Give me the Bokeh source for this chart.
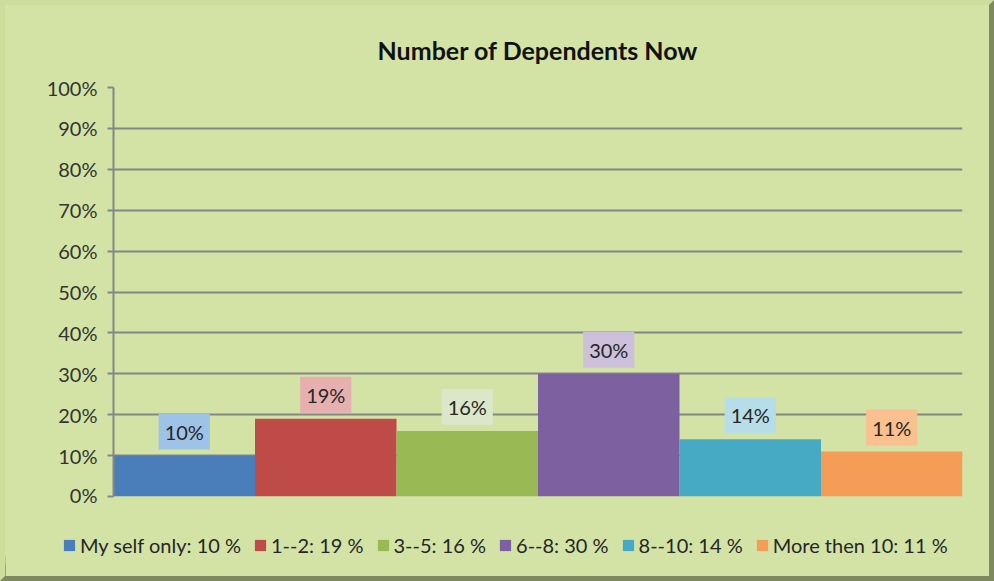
from bokeh.plotting import figure
from bokeh.layouts import column
from bokeh.models import (ColumnDataSource, Legend, LegendItem, NumeralTickFormatter, Range1d, FixedTicker)
from bokeh.core.properties import value
from bokeh.embed import file_html
from bokeh.resources import INLINE

categories = ["My self only", "1--2", "3--5", "6--8", "8--10", "More then 10"]
values = [0.10, 0.19, 0.16, 0.30, 0.14, 0.11]
value_labels = ["10%", "19%", "16%", "30%", "14%", "11%"]
legend_labels = ["My self only: 10 %", "1--2: 19 %", "3--5: 16 %", "6--8: 30 %", "8--10: 14 %", "More then 10: 11 %"]
bar_colors = ["#4a7ebb", "#be4b48", "#98b954", "#7d60a0", "#46aac4", "#f59d56"]
label_bg = ["#9dc3e6", "#e6b0b0", "#dce6c8", "#ccc0da", "#b7dee8", "#fac090"]
y_ticks = [0, 0.1, 0.2, 0.3, 0.4, 0.5, 0.6, 0.7, 0.8, 0.9, 1.0]

BG = "#d3e3a6"
FONT = "Lato"

src = ColumnDataSource(dict(x=[i + 0.5 for i in range(len(categories))], top=values,
                            color=bar_colors, lab=value_labels, bg=label_bg))

p = figure(frame_width=849, frame_height=409, output_backend="svg", toolbar_location=None,
           x_range=Range1d(0, len(categories)), y_range=Range1d(0, 1),
           min_border_left=108, min_border_right=27, min_border_top=82, min_border_bottom=10)
p.background_fill_color = BG
p.border_fill_color = BG
p.outline_line_color = None

p.title.text = "Number of Dependents Now"
p.title.align = "center"
p.title.text_font = FONT
p.title.text_font_size = "25px"
p.title.text_font_style = "bold"
p.title.text_color = "#111111"
p.title.standoff = 46

r = p.vbar(x="x", top="top", bottom=0, width=1.0, color="color", source=src, line_color=None)

p.text(x="x", y="top", text="lab", source=src, y_offset=-6, text_align="center",
       text_baseline="bottom", text_font=value(FONT), text_font_size="20px", text_color="#262626",
       background_fill_color="bg", padding=6)

p.yaxis.ticker = FixedTicker(ticks=y_ticks)
p.yaxis.formatter = NumeralTickFormatter(format="0%")
p.yaxis.axis_line_color = "#868686"
p.yaxis.axis_line_width = 2
p.yaxis.major_tick_line_color = "#868686"
p.yaxis.major_tick_line_width = 2
p.yaxis.major_tick_in = 0
p.yaxis.major_tick_out = 6
p.yaxis.minor_tick_line_color = None
p.yaxis.major_label_text_font = FONT
p.yaxis.major_label_text_font_size = "20px"
p.yaxis.major_label_text_color = "#333333"
p.yaxis.major_label_standoff = 10

p.xaxis.visible = False

p.xgrid.grid_line_color = None
p.ygrid.ticker = FixedTicker(ticks=y_ticks)
p.ygrid.grid_line_color = "#868686"
p.ygrid.grid_line_width = 2

# legend strip below the chart (its own small figure; bars lie outside its range)
lf = figure(width=984, height=70, output_backend="svg", toolbar_location=None,
            x_range=Range1d(100, 101), y_range=Range1d(0, 1),
            min_border_left=0, min_border_right=0, min_border_top=0, min_border_bottom=0)
lf.axis.visible = False
lf.grid.visible = False
lf.background_fill_color = BG
lf.border_fill_color = BG
lf.outline_line_color = None
lr = lf.vbar(x="x", top="top", bottom=0, width=1.0, color="color", source=src, line_color=None)

unaligned = "frame_align" in lf.properties()
if unaligned:
    lf.frame_align = False
    p.frame_align = False
    leg_x, leg_font, leg_spacing = 57, "20px", 12
else:
    leg_x, leg_font, leg_spacing = 8, "17px", 9

items = [LegendItem(label=legend_labels[i], renderers=[lr], index=i) for i in range(len(categories))]
legend = Legend(items=items, orientation="horizontal", location=(leg_x, 19),
                background_fill_alpha=0, border_line_color=None,
                label_text_font=FONT, label_text_font_size=leg_font, label_text_color="#262626",
                glyph_width=14, glyph_height=14, label_standoff=4, spacing=leg_spacing, padding=0, margin=0)
lf.add_layout(legend, "center")

page = column(p, lf, spacing=0, styles={"border": "5px outset #cddd9c", "background-color": BG})

open("out.html", "w").write(file_html(page, INLINE))
